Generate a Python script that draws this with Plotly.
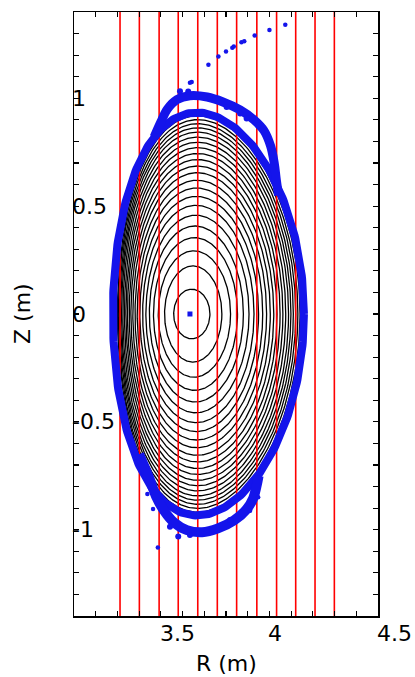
import numpy as np
import plotly.graph_objects as go

# ---------------- data ----------------
# nested flux surfaces (black contours): inboard / outboard midplane R, top height, triangularity
flux_R_in = [3.559, 3.517, 3.488, 3.466, 3.447, 3.431, 3.416, 3.403, 3.391, 3.381, 3.371,
             3.362, 3.354, 3.346, 3.339, 3.332, 3.325, 3.319, 3.314, 3.309, 3.304, 3.300]
flux_R_out = [3.726, 3.781, 3.821, 3.853, 3.880, 3.906, 3.929, 3.950, 3.969, 3.987, 4.004,
              4.020, 4.035, 4.049, 4.062, 4.075, 4.088, 4.099, 4.110, 4.121, 4.131, 4.141]
flux_Z_top = [0.115, 0.223, 0.293, 0.354, 0.408, 0.458, 0.504, 0.545, 0.584, 0.620, 0.655,
              0.686, 0.716, 0.744, 0.771, 0.796, 0.820, 0.843, 0.863, 0.882, 0.901, 0.919]
flux_delta = [0.004, 0.010, 0.016, 0.022, 0.028, 0.034, 0.041, 0.047, 0.052, 0.058, 0.064,
              0.069, 0.075, 0.080, 0.086, 0.091, 0.096, 0.101, 0.106, 0.111, 0.115, 0.120]

# vertical chords (red lines), R in m
chord_R = [3.312, 3.401, 3.492, 3.580, 3.670, 3.760, 3.849, 3.942, 4.033, 4.121, 4.210, 4.299]

# Poincare band (blue): main stochastic ring just outside the last surface
ring_R_in = 3.279
ring_R_out = 4.159
ring_Z_top = 0.934
ring_delta = 0.12

# upper lobe of the band
lobe_top_R = [3.469, 3.500, 3.530, 3.574, 3.634, 3.713, 3.786, 3.865, 3.929, 3.975,
              4.005, 4.022, 4.032, 4.042]
lobe_top_Z = [0.820, 0.890, 0.950, 0.994, 1.012, 1.006, 0.983, 0.946, 0.900, 0.850,
              0.780, 0.700, 0.620, 0.550]
# lower lobe of the band
lobe_bot_R = [3.400, 3.450, 3.478, 3.515, 3.561, 3.620, 3.690, 3.763, 3.837, 3.895,
              3.925, 3.940, 3.950]
lobe_bot_Z = [-0.650, -0.770, -0.845, -0.912, -0.967, -1.002, -1.012, -0.994, -0.957, -0.905,
              -0.855, -0.800, -0.750]

# ragged edge points of the band
fuzz_R = [3.588, 3.626, 3.726, 3.803, 3.865, 3.895, 3.949,
          3.542, 3.580, 3.634, 3.711, 3.819]
fuzz_Z = [1.033, 1.032, 1.006, 0.960, 0.929, 0.906, 0.875,
          -0.986, -1.032, -1.024, -1.001, -0.955]

# escaping field-line points
stray_R = [3.634, 3.642, 3.719, 3.765, 3.800, 3.829, 3.836, 3.871, 3.884, 3.932, 4.000, 4.073,
           3.438, 3.464, 3.486, 3.911, 3.948]
stray_Z = [1.072, 1.075, 1.155, 1.194, 1.217, 1.234, 1.240, 1.260, 1.264, 1.291, 1.317, 1.341,
           -0.835, -0.904, -1.083, -0.912, -0.849]

# magnetic axis
axis_R = [3.634]
axis_Z = [0.0]

x_range = [3.1, 4.5]
y_range = [-1.4, 1.4]
x_label_vals = [3.5, 4.0, 4.5]
x_label_text = ["3.5", "4", "4.5"]
y_label_vals = [1.0, 0.5, 0.0, -0.5, -1.0]
y_label_text = ["1", "0.5", "0", "-0.5", "-1"]

# ---------------- build figure ----------------
theta = np.linspace(0, 2 * np.pi, 361)


def surface(r_in, r_out, z_top, delta):
    rc = 0.5 * (r_in + r_out)
    a = 0.5 * (r_out - r_in)
    R = rc + a * np.cos(theta + np.arcsin(delta) * np.sin(theta))
    Z = z_top * np.sin(theta)
    return R, Z


cx, cy = [], []
for ri, ro, zt, dl in zip(flux_R_in, flux_R_out, flux_Z_top, flux_delta):
    R, Z = surface(ri, ro, zt, dl)
    cx += list(R) + [None]
    cy += list(Z) + [None]

fig = go.Figure()
fig.add_trace(go.Scatter(x=cx, y=cy, mode="lines", line=dict(color="black", width=1.3),
                         hoverinfo="skip", showlegend=False))

rx, ry = [], []
for r in chord_R:
    rx += [r, r, None]
    ry += [y_range[0], y_range[1], None]
fig.add_trace(go.Scatter(x=rx, y=ry, mode="lines", line=dict(color="#ff0000", width=1.6),
                         showlegend=False))

blue = "rgb(20,20,235)"
R, Z = surface(ring_R_in, ring_R_out, ring_Z_top, ring_delta)
fig.add_trace(go.Scatter(x=R, y=Z, mode="lines", line=dict(color=blue, width=8),
                         showlegend=False))
fig.add_trace(go.Scatter(x=lobe_top_R, y=lobe_top_Z, mode="lines",
                         line=dict(color=blue, width=9, shape="spline"), showlegend=False))
fig.add_trace(go.Scatter(x=lobe_bot_R, y=lobe_bot_Z, mode="lines",
                         line=dict(color=blue, width=10, shape="spline"), showlegend=False))
fig.add_trace(go.Scatter(x=fuzz_R, y=fuzz_Z, mode="markers",
                         marker=dict(color=blue, size=6), showlegend=False))
fig.add_trace(go.Scatter(x=stray_R, y=stray_Z, mode="markers",
                         marker=dict(color=blue, size=4.5), showlegend=False))
fig.add_trace(go.Scatter(x=axis_R, y=axis_Z, mode="markers",
                         marker=dict(color=blue, size=5, symbol="square"), showlegend=False))

font = dict(family="DejaVu Sans, Liberation Sans, sans-serif", size=22, color="black")

axis_common = dict(showgrid=False, zeroline=False, showline=True, linecolor="black",
                   linewidth=1.5, mirror="ticks", ticks="inside", ticklen=5, tickwidth=1.2,
                   tickcolor="black", dtick=0.1, showticklabels=False)
fig.update_xaxes(range=x_range, tick0=3.1, **axis_common)
fig.update_yaxes(range=y_range, tick0=-1.4, **axis_common)

ann = []
for v, t in zip(x_label_vals, x_label_text):
    ann.append(dict(x=v, y=0, xref="x", yref="paper", text=t, showarrow=False,
                    xanchor="left", yanchor="top", xshift=-3, yshift=-3, font=font))
for v, t in zip(y_label_vals, y_label_text):
    ann.append(dict(x=0, y=v, xref="paper", yref="y", text=t, showarrow=False,
                    xanchor="left", yanchor="middle", xshift=-4, font=font))
ann.append(dict(x=0.5, y=0, xref="paper", yref="paper", text="R (m)", showarrow=False,
                xanchor="center", yanchor="middle", yshift=-47, font=font))
ann.append(dict(x=0, y=0.5, xref="paper", yref="paper", text="Z (m)", showarrow=False,
                xanchor="center", yanchor="middle", xshift=-52, textangle=-90, font=font))

fig.update_layout(width=415, height=677, margin=dict(l=74, r=37, t=10, b=61),
                  paper_bgcolor="white", plot_bgcolor="white", annotations=ann,
                  showlegend=False, hovermode=False)

fig.write_html("out.html", config={"displayModeBar": False, "staticPlot": True},
               post_script="document.body.style.margin='0px';document.body.style.overflow='hidden';")
